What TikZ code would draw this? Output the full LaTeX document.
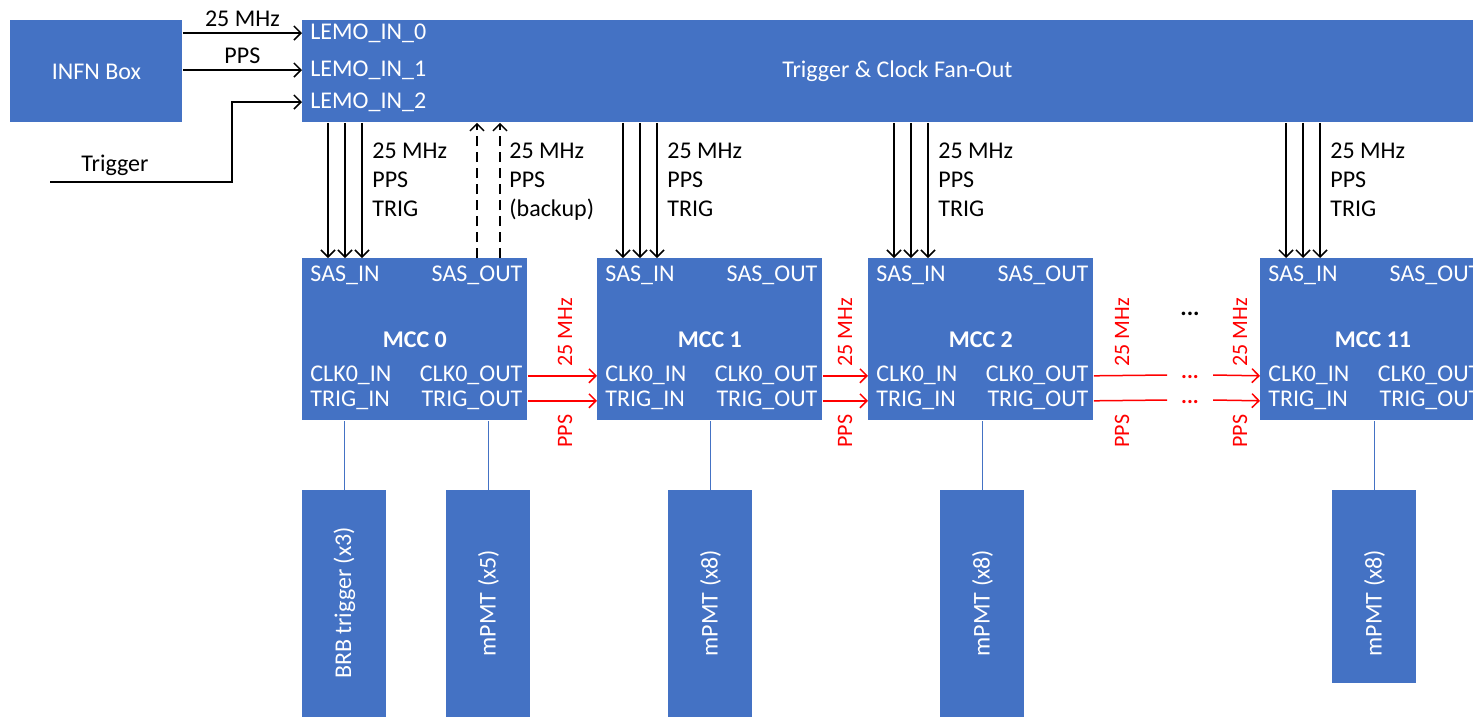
\documentclass[tikz,border=0pt]{standalone}
\usepackage{fontspec}
\setmainfont{Carlito}
\usetikzlibrary{arrows.meta,positioning,calc}
\definecolor{BoxClr}{HTML}{4472C4}
\definecolor{LinkClr}{HTML}{FF0000}

\begin{document}
\begin{tikzpicture}[x=0.5pt,y=-0.5pt,
  blk/.style={fill=BoxClr,draw=none,text=white,inner sep=0pt,anchor=north west,font=\fontsize{12}{14}\selectfont},
  port/.style={text=white,inner sep=0pt,font=\fontsize{12}{14}\selectfont},
  sig/.style={inner sep=0pt,align=left,font=\fontsize{12}{14.5}\selectfont},
  redsig/.style={inner sep=0pt,text=LinkClr,rotate=90,anchor=west,font=\fontsize{11}{13}\selectfont},
  wire/.style={line width=0.75pt,-{Straight Barb[length=3.5pt,width=7pt]}},
  redwire/.style={wire,draw=LinkClr},
  reddots/.style={text=LinkClr,inner sep=0pt,font=\bfseries\fontsize{11}{12}\selectfont},
  febox/.style={blk,minimum width=42pt}]
\useasboundingbox (0,0) rectangle (1473,720);
\clip (0,0) rectangle (1473,720);

% sources and fan-out
\node[blk,minimum width=86pt,minimum height=51pt] (infn) at (10,20) {INFN Box};
\node[blk,minimum width=595pt,minimum height=51pt] (fanout) at (302,20) {Trigger \& Clock Fan-Out};

\node[port,anchor=west] (lemo0) at (310,33) {LEMO\_IN\_0};
\node[port,anchor=west] (lemo1) at (310,70) {LEMO\_IN\_1};
\node[port,anchor=west] (lemo2) at (310,102) {LEMO\_IN\_2};

\draw[wire] (infn.east |- lemo0) -- (fanout.west |- lemo0) node[midway,above=3pt,sig] (lbl25) {25 MHz};
\draw[wire] (infn.east |- lemo1) -- (fanout.west |- lemo1) node[midway,above=3pt,sig] (lblpps) {PPS};
\coordinate (trig) at (50,182);
\coordinate (trigbend) at (232,102);
\draw[wire] (trig) -| (trigbend) -- (fanout.west |- lemo2);
\node[sig] (triglbl) at (115,165) {Trigger};

% MCC boards
\foreach \n/\x/\num in {0/302/0,1/597/1,2/868/2,3/1260/11}{
  \node[blk,minimum width=112.5pt,minimum height=81pt] (m\n) at (\x,258) {};
  \node[port,font=\bfseries\fontsize{12}{14}\selectfont] (mlbl\n) at (m\n.center) {MCC \num};
  \node[port,anchor=west] (sasin\n) at ([shift={(8,17)}]m\n.north west) {SAS\_IN};
  \node[port,anchor=east] (sasout\n) at ([shift={(-5,17)}]m\n.north east) {SAS\_OUT};
  \node[port,anchor=west] (clkin\n) at ([shift={(8,-45)}]m\n.south west) {CLK0\_IN};
  \node[port,anchor=west] (trigin\n) at ([shift={(8,-20)}]m\n.south west) {TRIG\_IN};
  \node[port,anchor=east] (clkout\n) at ([shift={(-5,-45)}]m\n.south east) {CLK0\_OUT};
  \node[port,anchor=east] (trigout\n) at ([shift={(-5,-20)}]m\n.south east) {TRIG\_OUT};
  \foreach \dx in {26,43,60}{
    \coordinate (tap) at ([shift={(\dx,0)}]m\n.north west);
    \draw[wire] (tap |- fanout.south) -- (tap);
  }
  \node[sig,anchor=north west] (fanlbl\n) at ($(m\n.north west)+(70,-115)$) {25 MHz\\PPS\\TRIG};
}

% backup lines back to the fan-out
\foreach \dx in {175,198}{
  \coordinate (bup) at ([shift={(\dx,0)}]m0.north west);
  \draw[wire,dash pattern=on 5pt off 3pt] (bup) -- (bup |- fanout.south);
}
\node[sig,anchor=north west] (buplbl) at ($(m0.north west)+(207,-115)$) {25 MHz\\PPS\\(backup)};

% clock and trigger daisy chain
\foreach \a/\b/\lx in {0/1/565,1/2/845}{
  \draw[redwire] (m\a.east |- clkout\a) -- (m\b.west |- clkin\b);
  \draw[redwire] (m\a.east |- trigout\a) -- (m\b.west |- trigin\b);
  \node[redsig] (red25\a) at (\lx,367) {25 MHz};
  \node[redsig] (redpps\a) at (\lx,448) {PPS};
}
\coordinate (clkgap) at (1167,375);
\coordinate (triggap) at (1167,400);
\coordinate (clkresume) at (1213,375);
\coordinate (trigresume) at (1213,400);
\draw[redwire,-] (m2.east |- clkout2) -- (clkgap);
\draw[redwire,-] (m2.east |- trigout2) -- (triggap);
\node[reddots,anchor=base] (clkdots) at (1190,378) {...};
\node[reddots,anchor=base] (trigdots) at (1190,403) {...};
\draw[redwire] (clkresume) -- (m3.west |- clkin3);
\draw[redwire] (trigresume) -- (m3.west |- trigin3);
\node[redsig] (red25b) at (1122,367) {25 MHz};
\node[redsig] (redppsb) at (1122,448) {PPS};
\node[redsig] (red25c) at (1240,367) {25 MHz};
\node[redsig] (redppsc) at (1240,448) {PPS};
\node[inner sep=0pt,font=\bfseries\fontsize{12}{14}\selectfont] (gapdots) at (1190,314) {...};

% front-end boards
\foreach \b/\x/\h/\src/\txt in {0/302/113.5/0/BRB trigger (x3),1/446/113.5/0/mPMT (x5),2/668/113.5/1/mPMT (x8),3/940/113.5/2/mPMT (x8),4/1332/96.5/3/mPMT (x8)}{
  \node[febox,minimum height=\h pt] (fe\b) at (\x,490) {};
  \node[port,rotate=90,font=\fontsize{12}{14}\selectfont] (felbl\b) at ([shift={(0,113)}]fe\b.north) {\txt};
  \draw[BoxClr,line width=0.75pt] (fe\b.north) -- (fe\b.north |- m\src.south);
}

\end{tikzpicture}
\end{document}
